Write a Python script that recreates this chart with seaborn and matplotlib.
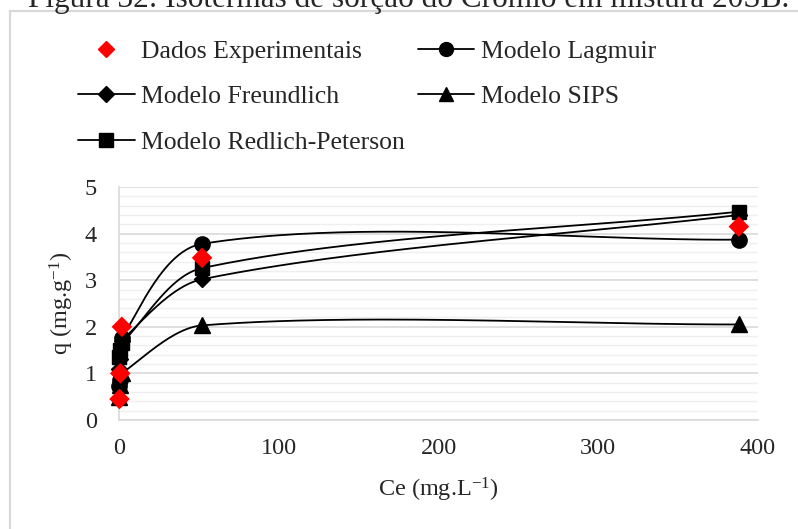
import numpy as np
import pandas as pd
import matplotlib
matplotlib.use("Agg")
import matplotlib.pyplot as plt
from matplotlib.lines import Line2D
from matplotlib.patches import Rectangle
import seaborn as sns

# ---- data ----
ce = [0.3, 0.8, 1.8, 52, 388]
q_exp = [0.45, 1.0, 2.0, 3.48, 4.15]
q_langmuir = [0.72, 0.85, 1.75, 3.78, 3.87]
q_freundlich = [1.1, 1.3, 1.7, 3.02, 4.40]
q_sips = [0.5, 0.75, 1.0, 2.03, 2.05]
q_rp = [1.35, 1.5, 1.65, 3.26, 4.47]

title = "Figura 32: Isotermas de sorção do Crômio em mistura 20SB."
xlabel = "Ce (mg.L$^{-1}$)"
ylabel = "q (mg.g$^{-1}$)"

sns.set_style("white")
plt.rcParams['font.family'] = ['Liberation Serif', 'DejaVu Serif']
plt.rcParams['mathtext.fontset'] = 'custom'
plt.rcParams['mathtext.rm'] = 'Liberation Serif'
plt.rcParams['mathtext.it'] = 'Liberation Serif'

XMAX, YMAX = 400.0, 5.0
AX_W_PX, AX_H_PX = 758 - 119, 420 - 187
SX, SY = AX_W_PX / XMAX, AX_H_PX / YMAX


def smooth(x, y, n=80, k=0.3):
    """Excel-like smoothed line: cubic Bezier, tangents from neighbours,
    control distance proportional to segment length (screen space)."""
    p = np.column_stack([np.asarray(x, float) * SX, np.asarray(y, float) * SY])
    m = len(p)
    out = []

    def tangent(i):
        a = p[i - 1] if i > 0 else p[i]
        b = p[i + 1] if i < m - 1 else p[i]
        d = b - a
        nrm = np.hypot(*d)
        return d / nrm if nrm > 0 else d

    for i in range(m - 1):
        p1, p2 = p[i], p[i + 1]
        L = np.hypot(*(p2 - p1))
        c1 = p1 + tangent(i) * L * k
        c2 = p2 - tangent(i + 1) * L * k
        t = np.linspace(0, 1, n)[:, None]
        seg = ((1 - t) ** 3) * p1 + 3 * ((1 - t) ** 2) * t * c1 + 3 * (1 - t) * t ** 2 * c2 + t ** 3 * p2
        out.append(seg if i == 0 else seg[1:])
    s = np.vstack(out)
    return s[:, 0] / SX, s[:, 1] / SY


fig = plt.figure(figsize=(7.98, 5.29), dpi=100)
ax = fig.add_axes([119 / 798, 1 - 420 / 529, AX_W_PX / 798, AX_H_PX / 529])

# outer chart border
fig.patches.append(Rectangle((10 / 798, -0.02), 1.05, 1 - 11 / 529 + 0.02,
                             transform=fig.transFigure, fill=False,
                             edgecolor='#d9d9d9', linewidth=1.6, zorder=0))
fig.text(0.5 + 10 / 798, 1 - 7 / 529, title, ha='center', va='baseline', fontsize=22.5)

models = [
    ("Modelo Lagmuir", q_langmuir, 'o', 11),
    ("Modelo Freundlich", q_freundlich, 'D', 8.5),
    ("Modelo SIPS", q_sips, '^', 11),
    ("Modelo Redlich-Peterson", q_rp, 's', 10.5),
]

for name, q, mk, ms in models:
    sx, sy = smooth(ce, q)
    df_line = pd.DataFrame({"x": sx, "y": sy})
    sns.lineplot(data=df_line, x="x", y="y", sort=False, estimator=None,
                 color='black', linewidth=1.3, ax=ax, zorder=3)
    ax.plot(ce, q, linestyle='none', marker=mk, markersize=ms,
            color='black', zorder=4, clip_on=False)

df_exp = pd.DataFrame({"x": ce, "y": q_exp})
sns.scatterplot(data=df_exp, x="x", y="y", marker='D', s=110, color='#ff0000',
                edgecolor='none', ax=ax, zorder=5, clip_on=False)

ax.set_xlim(0, XMAX)
ax.set_ylim(0, YMAX)
ax.set_xticks([0, 100, 200, 300, 400])
ax.set_yticks([0, 1, 2, 3, 4, 5])
ax.set_yticks(np.arange(0, 5.01, 0.2), minor=True)
ax.grid(True, which='major', axis='y', color='#d9d9d9', linewidth=1.2, zorder=0)
ax.grid(True, which='minor', axis='y', color='#efefef', linewidth=1.0, zorder=0)
ax.set_axisbelow(True)
for side in ['top', 'right']:
    ax.spines[side].set_visible(False)
for side in ['left', 'bottom']:
    ax.spines[side].set_color('#d9d9d9')
    ax.spines[side].set_linewidth(1.2)
ax.tick_params(axis='both', which='both', length=0, labelsize=17.5)
ax.tick_params(axis='y', pad=16)
ax.tick_params(axis='x', pad=13)
ax.set_xlabel(xlabel, fontsize=17.5, labelpad=12)
ax.set_ylabel(ylabel, fontsize=17.5, labelpad=6)

handles = [
    Line2D([], [], linestyle='none', marker='D', markersize=8, color='#ff0000'),
    Line2D([], [], color='black', lw=1.3, marker='D', markersize=8),
    Line2D([], [], color='black', lw=1.3, marker='s', markersize=10),
    Line2D([], [], color='black', lw=1.3, marker='o', markersize=10),
    Line2D([], [], color='black', lw=1.3, marker='^', markersize=10),
]
labels = ["Dados Experimentais", "Modelo Freundlich", "Modelo Redlich-Peterson",
          "Modelo Lagmuir", "Modelo SIPS"]
fig.legend(handles, labels, ncol=2, loc='upper left',
           bbox_to_anchor=(78 / 798, 1 - 40 / 529), frameon=False, fontsize=18.5,
           handlelength=2.2, handletextpad=0.25, columnspacing=0.5,
           labelspacing=0.87, borderaxespad=0, borderpad=0)

fig.savefig("out.png", dpi=100, facecolor='white')
